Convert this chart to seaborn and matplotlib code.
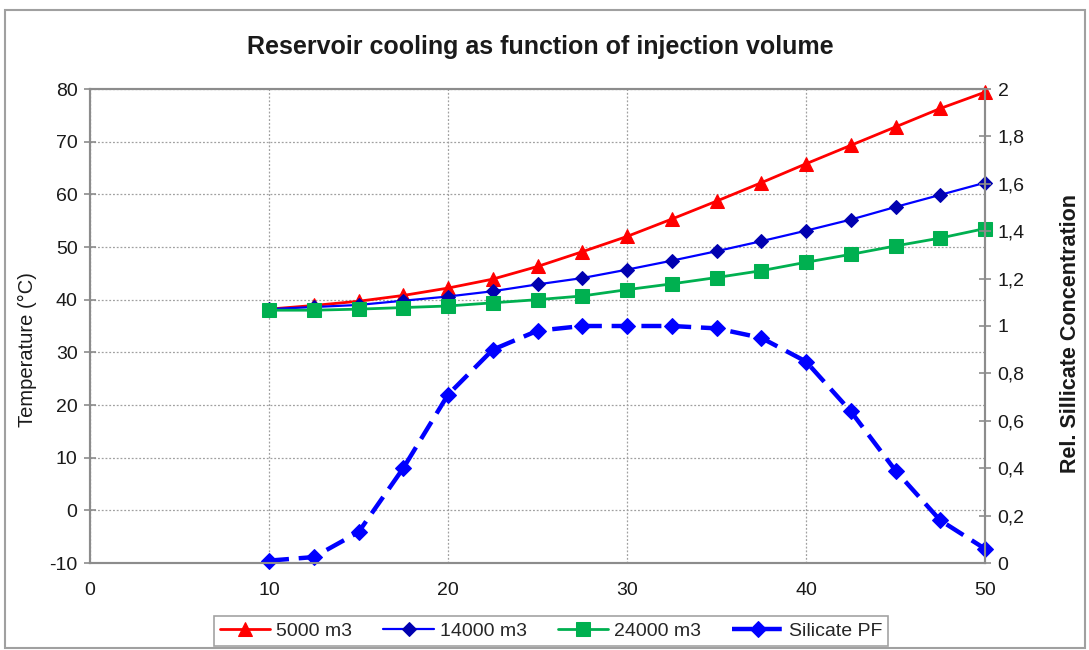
import matplotlib
matplotlib.use("Agg")
import matplotlib.pyplot as plt
from matplotlib.patches import Rectangle
import seaborn as sns
import pandas as pd
from matplotlib.ticker import FuncFormatter

# ---- data ----
volume = [10, 12.5, 15, 17.5, 20, 22.5, 25, 27.5, 30, 32.5, 35, 37.5, 40, 42.5, 45, 47.5, 50]
temp_5000 = [38.2, 38.9, 39.7, 40.8, 42.2, 43.9, 46.3, 49.1, 52.0, 55.3, 58.7, 62.2, 65.8, 69.3, 72.8, 76.3, 79.4]
temp_14000 = [38.2, 38.6, 39.0, 39.8, 40.6, 41.6, 42.9, 44.1, 45.7, 47.4, 49.2, 51.1, 53.1, 55.2, 57.6, 59.9, 62.2]
temp_24000 = [38.0, 38.0, 38.2, 38.5, 38.8, 39.4, 40.0, 40.7, 41.9, 43.0, 44.2, 45.5, 47.1, 48.6, 50.2, 51.7, 53.5]
silicate_pf = [0.01, 0.025, 0.13, 0.40, 0.71, 0.90, 0.98, 1.00, 1.00, 1.00, 0.99, 0.95, 0.85, 0.64, 0.39, 0.18, 0.06]

x_ticks = [0, 10, 20, 30, 40, 50]
left_ticks = [-10, 0, 10, 20, 30, 40, 50, 60, 70, 80]
right_ticks = [0, 0.2, 0.4, 0.6, 0.8, 1.0, 1.2, 1.4, 1.6, 1.8, 2.0]
series_labels = ["5000 m3", "14000 m3", "24000 m3", "Silicate PF"]

sns.set_style("white")
plt.rcParams['font.family'] = ['Liberation Sans', 'DejaVu Sans']
plt.rcParams['axes.unicode_minus'] = False

df = pd.DataFrame({
    "volume": volume,
    "t5000": temp_5000,
    "t14000": temp_14000,
    "t24000": temp_24000,
    "sil": silicate_pf,
})

fig = plt.figure(figsize=(10.89, 6.5), dpi=100)
ax = fig.add_axes([90/1089, 1-563/650, (985-90)/1089, (563-89)/650])
ax2 = ax.twinx()

sns.lineplot(data=df, x="volume", y="t5000", ax=ax, color="#FF0000", lw=2,
             marker="^", markersize=10, markeredgecolor="#FF0000", label=series_labels[0], legend=False)
sns.lineplot(data=df, x="volume", y="t14000", ax=ax, color="#0000FF", lw=1.6,
             marker="D", markersize=7, markerfacecolor="#0000B0", markeredgecolor="#0000B0",
             label=series_labels[1], legend=False)
sns.lineplot(data=df, x="volume", y="t24000", ax=ax, color="#00B050", lw=2,
             marker="s", markersize=10, markeredgecolor="#00B050", label=series_labels[2], legend=False)
sns.lineplot(data=df, x="volume", y="sil", ax=ax2, color="#0000FF", lw=3.2,
             marker="D", markersize=8, markeredgecolor="#0000FF", label=series_labels[3], legend=False)
ax2.lines[0].set_dashes([4.5, 2.2])
for ln in ax.lines + ax2.lines:
    ln.set_clip_on(False)

ax.set_xlim(0, 50)
ax.set_ylim(-10, 80)
ax2.set_ylim(0, 2)
ax.set_xticks(x_ticks)
ax.set_yticks(left_ticks)
ax2.set_yticks(right_ticks)
ax2.yaxis.set_major_formatter(FuncFormatter(lambda v, p: ("%g" % round(v, 1)).replace(".", ",")))

ax.grid(True, color="#A0A0A0", linestyle=(0, (1.5, 1.5)), lw=0.9)
ax.set_axisbelow(True)

spine_col = "#8C8C8C"
for a in (ax, ax2):
    for s in a.spines.values():
        s.set_color(spine_col)
        s.set_linewidth(1.5)
ax.tick_params(axis="y", direction="inout", length=8, width=1.2, color=spine_col,
               labelsize=14, labelcolor="#1a1a1a", pad=5)
ax.tick_params(axis="x", direction="inout", length=8, width=1.2, color=spine_col,
               labelsize=14, labelcolor="#1a1a1a", pad=10)
ax2.tick_params(axis="y", direction="inout", length=8, width=1.2, color=spine_col,
                labelsize=14, labelcolor="#1a1a1a", pad=5)

ax.set_xlabel("")
ax.set_ylabel("Temperature (°C)", fontsize=14.5, color="#1a1a1a")
ax.yaxis.set_label_coords(-0.059, 0.45)
ax2.set_ylabel("Rel. Sillicate Concentration", fontsize=15.5, fontweight="bold", color="#1a1a1a")
ax2.yaxis.set_label_coords(1.0834, 0.485)

fig.text(540/1089, 1-47/650, "Reservoir cooling as function of injection volume",
         ha="center", va="center", fontsize=18, fontweight="bold", color="#1a1a1a")

handles = ax.lines[:3] + ax2.lines[:1]
leg = fig.legend(handles, series_labels, loc="center", bbox_to_anchor=(551/1089, 1-631/650),
                 ncol=4, frameon=True, fancybox=False, fontsize=14, handlelength=2.6,
                 handletextpad=0.3, columnspacing=1.6, borderpad=0.3)
leg.get_frame().set_edgecolor("#8C8C8C")
leg.get_frame().set_linewidth(1.2)

fig.patches.append(Rectangle((5/1089, 2/650), 1080/1089, 638/650, transform=fig.transFigure,
                             fill=False, edgecolor="#A0A0A0", lw=1.5))

fig.savefig("out.png", dpi=100)
